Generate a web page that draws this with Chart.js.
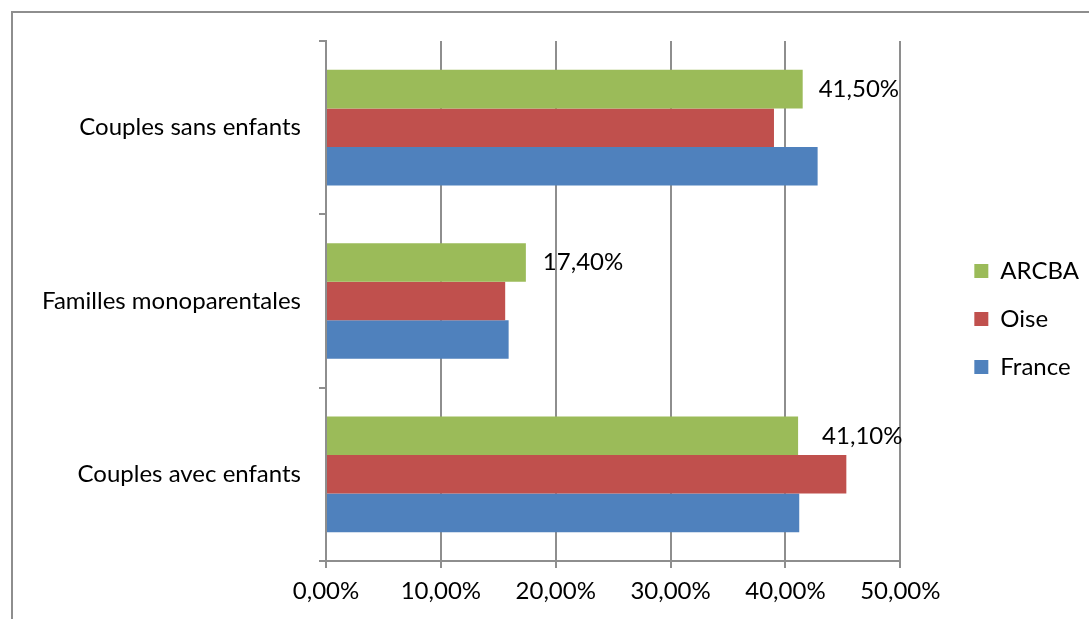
<!DOCTYPE html>
<html>
<head>
<meta charset="utf-8">
<script src="https://cdn.jsdelivr.net/npm/chart.js@4"></script>
<style>
  html, body { margin: 0; padding: 0; background: #fff; overflow: hidden; }
  #frame {
    position: absolute; left: 11px; top: 11px; width: 1200px; height: 800px;
    border-left: 2px solid #8e8e8e; border-top: 2px solid #8e8e8e;
  }
  #wrap { position: absolute; left: 0; top: 0; width: 1089px; height: 619px; }
</style>
</head>
<body>
<div id="frame"></div>
<div id="wrap"><canvas id="chart"></canvas></div>
<script>
// valeurs en %
const categories = ['Couples sans enfants', 'Familles monoparentales', 'Couples avec enfants'];
const arcba = [41.5, 17.4, 41.1];
const oise = [39.0, 15.6, 45.3];
const france = [42.8, 15.9, 41.2];
const xTicks = [0, 10, 20, 30, 40, 50];

const fmt = v => v.toFixed(2).replace('.', ',') + '%';
const gridColor = '#8e8e8e';
const font = { family: 'Lato', size: 24 };

Chart.defaults.color = '#000';
Chart.defaults.font = font;

// étiquettes ARCBA à droite des barres
const labelOffsets = [16, 17, 24];
const arcbaLabels = {
  id: 'arcbaLabels',
  afterDatasetsDraw(chart) {
    const ctx = chart.ctx;
    const meta = chart.getDatasetMeta(0);
    ctx.save();
    ctx.font = `${font.size}px ${font.family}`;
    ctx.fillStyle = '#000';
    ctx.textAlign = 'left';
    ctx.textBaseline = 'middle';
    meta.data.forEach((bar, i) => {
      ctx.fillText(fmt(arcba[i]), bar.x + labelOffsets[i], bar.y);
    });
    ctx.restore();
  }
};

new Chart(document.getElementById('chart'), {
  type: 'bar',
  data: {
    labels: categories,
    datasets: [
      { label: 'ARCBA', data: arcba, backgroundColor: '#9bbb59' },
      { label: 'Oise', data: oise, backgroundColor: '#c0504d' },
      { label: 'France', data: france, backgroundColor: '#4f81bd' }
    ]
  },
  options: {
    indexAxis: 'y',
    responsive: true,
    maintainAspectRatio: false,
    animation: false,
    categoryPercentage: 0.667,
    barPercentage: 1.0,
    layout: { padding: { top: 19, bottom: 0, left: 0, right: 0 } },
    scales: {
      x: {
        min: 0,
        max: 50,
        afterBuildTicks: s => { s.ticks = xTicks.map(v => ({ value: v })); },
        afterFit: s => { s.height = 58; },
        ticks: { callback: v => fmt(v), padding: 9, maxRotation: 0 },
        grid: { color: gridColor, lineWidth: 2, tickLength: 7 },
        border: { color: gridColor, width: 2 }
      },
      xTop: {
        type: 'linear',
        position: 'top',
        afterFit: s => { s.height = 22; },
        ticks: { display: false },
        grid: { display: false },
        border: { display: false }
      },
      y: {
        afterFit: s => { s.width = 326; },
        ticks: { padding: 18 },
        grid: { drawOnChartArea: false, color: gridColor, lineWidth: 2, tickLength: 7, offset: true },
        border: { color: gridColor, width: 2 }
      },
      yRight: {
        type: 'category',
        position: 'right',
        labels: categories,
        afterFit: s => { s.width = 50; },
        ticks: { display: false },
        grid: { display: false },
        border: { display: false }
      }
    },
    plugins: {
      legend: {
        position: 'right',
        labels: { boxWidth: 14, boxHeight: 14, padding: 24, font: font }
      },
      tooltip: { enabled: false }
    }
  },
  plugins: [arcbaLabels]
});
</script>
</body>
</html>
